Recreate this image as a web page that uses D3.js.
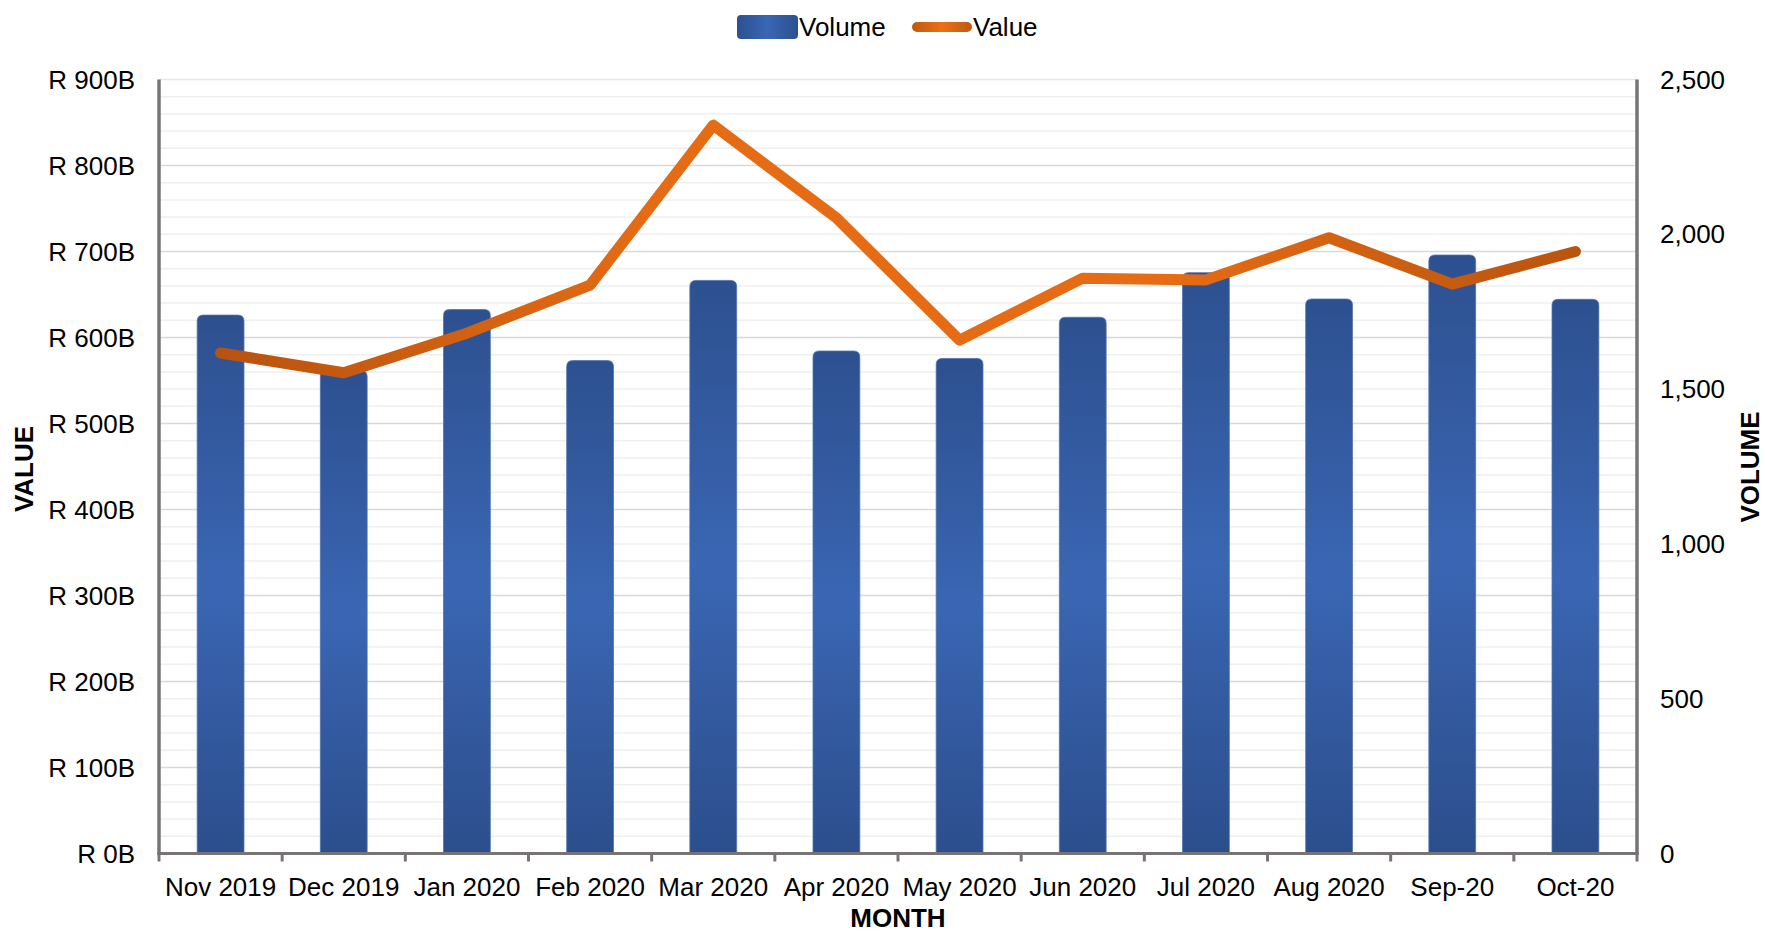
<!DOCTYPE html>
<html>
<head>
<meta charset="utf-8">
<script src="https://cdn.jsdelivr.net/npm/d3@7"></script>
<style>
  html, body { margin: 0; padding: 0; background: #ffffff; }
  svg { display: block; font-family: "Liberation Sans", Arial, sans-serif; }
</style>
</head>
<body>
<svg id="chart" width="1765" height="935"></svg>
<script>
// ---- Data ----
const months = ["Nov 2019", "Dec 2019", "Jan 2020", "Feb 2020", "Mar 2020", "Apr 2020",
                "May 2020", "Jun 2020", "Jul 2020", "Aug 2020", "Sep-20", "Oct-20"];
const volume = [1739, 1560, 1757, 1592, 1851, 1623, 1599, 1732, 1876, 1791, 1933, 1790];
const valueB = [582, 559, 605, 661, 847, 739, 597, 669, 667, 716, 662, 700];
const valueTicks = [0, 100, 200, 300, 400, 500, 600, 700, 800, 900];
const volumeTicks = [0, 500, 1000, 1500, 2000, 2500];

// ---- Layout ----
const W = 1765, H = 935;
const plot = { left: 159, right: 1637, top: 79.5, bottom: 853.5 };
const fontSize = 26;

const svg = d3.select("#chart");
const defs = svg.append("defs");

// Bar gradient (vertical)
const bg = defs.append("linearGradient").attr("id", "barGrad")
  .attr("x1", 0).attr("y1", 0).attr("x2", 0).attr("y2", 1);
bg.append("stop").attr("offset", "0%").attr("stop-color", "#2d508f");
bg.append("stop").attr("offset", "50%").attr("stop-color", "#3a66b3");
bg.append("stop").attr("offset", "100%").attr("stop-color", "#2c4e8c");

// Legend swatch gradient (horizontal)
const lg = defs.append("linearGradient").attr("id", "legGrad")
  .attr("x1", 0).attr("y1", 0).attr("x2", 1).attr("y2", 0);
lg.append("stop").attr("offset", "0%").attr("stop-color", "#2d508f");
lg.append("stop").attr("offset", "50%").attr("stop-color", "#3a66b3");
lg.append("stop").attr("offset", "100%").attr("stop-color", "#2d508f");

// Scales
const x = d3.scaleBand().domain(months).range([plot.left, plot.right]).paddingInner(0.62).paddingOuter(0.31);
const xc = d => x(d) + x.bandwidth() / 2;
const yL = d3.scaleLinear().domain([0, 900]).range([plot.bottom, plot.top]);
const yR = d3.scaleLinear().domain([0, 2500]).range([plot.bottom, plot.top]);

// Line gradient (horizontal across the line)
const og = defs.append("linearGradient").attr("id", "lineGrad")
  .attr("gradientUnits", "userSpaceOnUse")
  .attr("x1", xc(months[0])).attr("y1", 0)
  .attr("x2", xc(months[months.length - 1])).attr("y2", 0);
og.append("stop").attr("offset", "0%").attr("stop-color", "#b8530f");
og.append("stop").attr("offset", "32%").attr("stop-color", "#e56c14");
og.append("stop").attr("offset", "70%").attr("stop-color", "#e56c14");
og.append("stop").attr("offset", "100%").attr("stop-color", "#b9540f");

// Legend line gradient (user space, since a horizontal line has a zero-height box)
const og2 = defs.append("linearGradient").attr("id", "legLineGrad")
  .attr("gradientUnits", "userSpaceOnUse")
  .attr("x1", 912).attr("y1", 0).attr("x2", 972).attr("y2", 0);
og2.append("stop").attr("offset", "0%").attr("stop-color", "#c0580f");
og2.append("stop").attr("offset", "50%").attr("stop-color", "#ea7018");
og2.append("stop").attr("offset", "100%").attr("stop-color", "#c0580f");

// ---- Gridlines ----
const minorTicks = d3.range(0, 901, 20);
svg.append("g").selectAll("line").data(minorTicks.filter(t => t % 100 !== 0)).join("line")
  .attr("x1", plot.left).attr("x2", plot.right)
  .attr("y1", d => yL(d)).attr("y2", d => yL(d))
  .attr("stroke", "#efefef").attr("stroke-width", 1.5);
svg.append("g").selectAll("line").data(valueTicks.filter(t => t > 0)).join("line")
  .attr("x1", plot.left).attr("x2", plot.right)
  .attr("y1", d => yL(d)).attr("y2", d => yL(d))
  .attr("stroke", d => d === 900 ? "#e6e6e6" : "#d9d9d9").attr("stroke-width", 1.5);

// ---- Bars ----
const r = 6;
function barPath(d, i) {
  const x0 = x(months[i]), w = x.bandwidth();
  const y0 = yR(d), y1 = yR(0);
  return `M${x0},${y1} L${x0},${y0 + r} Q${x0},${y0} ${x0 + r},${y0} L${x0 + w - r},${y0} Q${x0 + w},${y0} ${x0 + w},${y0 + r} L${x0 + w},${y1} Z`;
}
svg.append("g").selectAll("path").data(volume).join("path")
  .attr("d", (d, i) => barPath(d, i))
  .attr("fill", "url(#barGrad)")
  .attr("stroke", "#4f72b2").attr("stroke-width", 0.8);

// ---- Line ----
const line = d3.line().x((d, i) => xc(months[i])).y(d => yL(d));
svg.append("path").datum(valueB)
  .attr("d", line)
  .attr("fill", "none")
  .attr("stroke", "url(#lineGrad)")
  .attr("stroke-width", 11)
  .attr("stroke-linejoin", "round")
  .attr("stroke-linecap", "round");

// ---- Axes ----
const axisColor = "#787474";
svg.append("line").attr("x1", plot.left).attr("x2", plot.left)
  .attr("y1", plot.top).attr("y2", plot.bottom + 1.5)
  .attr("stroke", axisColor).attr("stroke-width", 3.5);
svg.append("line").attr("x1", plot.right).attr("x2", plot.right)
  .attr("y1", plot.top).attr("y2", plot.bottom + 1.5)
  .attr("stroke", axisColor).attr("stroke-width", 3.5);
svg.append("line").attr("x1", plot.left - 1.5).attr("x2", plot.right + 1.5)
  .attr("y1", plot.bottom).attr("y2", plot.bottom)
  .attr("stroke", axisColor).attr("stroke-width", 3);
const edges = months.map(m => x(m) - x.step() * x.paddingInner() / 2).concat([plot.right]);
svg.append("g").selectAll("line").data(edges).join("line")
  .attr("x1", d => d).attr("x2", d => d)
  .attr("y1", plot.bottom).attr("y2", plot.bottom + 8)
  .attr("stroke", axisColor).attr("stroke-width", 3);

// tick labels left
svg.append("g").selectAll("text").data(valueTicks).join("text")
  .attr("x", 135).attr("y", d => yL(d))
  .attr("text-anchor", "end").attr("dominant-baseline", "central")
  .attr("font-size", fontSize).attr("fill", "#000")
  .text(d => `R ${d}B`);

// tick labels right
svg.append("g").selectAll("text").data(volumeTicks).join("text")
  .attr("x", 1660).attr("y", d => yR(d))
  .attr("text-anchor", "start").attr("dominant-baseline", "central")
  .attr("font-size", fontSize).attr("fill", "#000")
  .text(d => d3.format(",")(d));

// x labels
svg.append("g").selectAll("text").data(months).join("text")
  .attr("x", d => xc(d)).attr("y", 887)
  .attr("text-anchor", "middle").attr("dominant-baseline", "central")
  .attr("font-size", fontSize).attr("fill", "#000")
  .text(d => d);

// axis titles
svg.append("text").attr("x", (plot.left + plot.right) / 2).attr("y", 918)
  .attr("text-anchor", "middle").attr("dominant-baseline", "central")
  .attr("font-size", fontSize).attr("font-weight", "bold").text("MONTH");
svg.append("text").attr("transform", "translate(24,469) rotate(-90)")
  .attr("text-anchor", "middle").attr("dominant-baseline", "central")
  .attr("font-size", fontSize).attr("font-weight", "bold").text("VALUE");
svg.append("text").attr("transform", "translate(1750,467) rotate(-90)")
  .attr("text-anchor", "middle").attr("dominant-baseline", "central")
  .attr("font-size", fontSize).attr("font-weight", "bold").text("VOLUME");

// ---- Legend ----
const leg = svg.append("g");
leg.append("rect").attr("x", 737).attr("y", 15).attr("width", 61).attr("height", 24)
  .attr("rx", 4).attr("fill", "url(#legGrad)");
leg.append("text").attr("x", 799).attr("y", 27).attr("dominant-baseline", "central")
  .attr("font-size", fontSize).text("Volume");
leg.append("line").attr("x1", 917).attr("x2", 967).attr("y1", 27).attr("y2", 27)
  .attr("stroke", "url(#legLineGrad)").attr("stroke-width", 10).attr("stroke-linecap", "round");
leg.append("text").attr("x", 973).attr("y", 27).attr("dominant-baseline", "central")
  .attr("font-size", fontSize).text("Value");
</script>
</body>
</html>
